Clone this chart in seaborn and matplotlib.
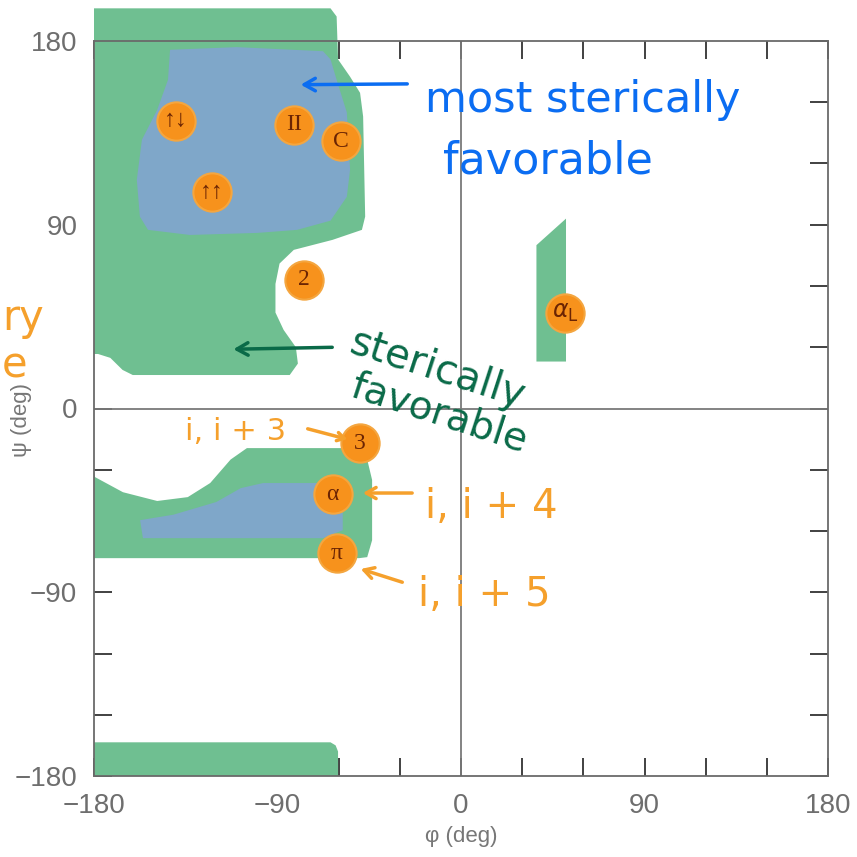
import numpy as np
import pandas as pd
import seaborn as sns
import matplotlib.pyplot as plt

# sterically allowed regions (phi, psi)
green_upper_phi = [-180, -180, -178, -172, -166, -161, -84, -80, -81, -87, -91, -91, -89, -82, -63, -48.6, -47, -48, -49.5, -54.4, -60.3, -61, -64, -177]
green_upper_psi = [196, 26.7, 26.7, 24.8, 18.9, 16.4, 16.4, 22, 30, 38.5, 47, 61, 71, 77.7, 82.6, 87.5, 94, 143, 154.6, 162.5, 171, 192, 196, 196]

blue_upper_phi = [-142.7, -143.7, -149, -156.5, -159, -157.5, -153.5, -133, -100, -80.4, -64, -56, -54.4, -56, -61, -64, -67.7, -110]
blue_upper_psi = [175.7, 161, 146.3, 131.6, 112, 94, 87.5, 85, 86, 87.5, 92, 103.7, 117, 145, 161, 171, 175, 177]

green_lower_phi = [-180, -179.5, -165.8, -149, -134, -123, -113, -105, -58, -50, -46, -43.6, -43.6, -46, -50, -180]
green_lower_psi = [-31, -33.6, -41, -45.3, -43.4, -36.5, -25, -19.4, -19.4, -21, -25, -35, -64.5, -72.8, -73.3, -73.3]

blue_lower_phi = [-157.4, -141, -120, -108, -97, -70.6, -67.7, -58, -58, -67.7, -156]
blue_lower_psi = [-54.7, -52, -45.8, -39, -36.5, -36.5, -43, -51, -59.6, -63.5, -63.5]

green_bottom_phi = [-180, -180, -64, -61.5, -60.3, -60.3]
green_bottom_psi = [-180, -163.5, -163.5, -165, -168, -180]

alpha_l_phi = [37, 37, 51.5, 51.5]
alpha_l_psi = [23, 80, 93, 23]

# conformations
conf_phi = [-140, -82, -59, -122, -77, 51, -49.5, -63, -61]
conf_psi = [141, 139, 131, 106, 63, 47, -17, -42, -71]
conf_labels = ['↑↓', 'II', 'C', '↑↑', '2', r'$\alpha_\mathrm{L}$', '3', 'α', 'π']

ticks = np.arange(-180, 181, 30)
tick_labels = ['\u2212180', '', '', '\u221290', '', '', '0', '', '', '90', '', '', '180']

GREEN = '#6fbf91'
BLUE = '#7fa7c9'
ORANGE = '#f7921c'

sns.set_style('ticks')
plt.rcParams['font.family'] = ['Liberation Sans', 'DejaVu Sans']

fig = plt.figure(figsize=(8.57, 8.57), dpi=100)
ax = fig.add_axes([94 / 857, 1 - 776 / 857, 734 / 857, 735 / 857])

ax.fill(green_upper_phi, green_upper_psi, color=GREEN, lw=0, clip_on=False, zorder=1)
ax.fill(blue_upper_phi, blue_upper_psi, color=BLUE, lw=0, zorder=2)
ax.fill(green_lower_phi, green_lower_psi, color=GREEN, lw=0, zorder=1)
ax.fill(blue_lower_phi, blue_lower_psi, color=BLUE, lw=0, zorder=2)
ax.fill(green_bottom_phi, green_bottom_psi, color=GREEN, lw=0, zorder=1)
ax.fill(alpha_l_phi, alpha_l_psi, color=GREEN, lw=0, zorder=1)

ax.axhline(0, color='#7a7a7a', lw=1.3, zorder=3)
ax.axvline(0, color='#7a7a7a', lw=1.3, zorder=3)

conf = pd.DataFrame({'phi': conf_phi, 'psi': conf_psi, 'label': conf_labels})
sns.scatterplot(data=conf, x='phi', y='psi', s=760, color=ORANGE,
                edgecolor='#f4a640', linewidth=1.5, ax=ax, zorder=5, legend=False)
for _, r in conf.iterrows():
    ax.text(r.phi, r.psi, r.label, ha='center', va='center', fontsize=17,
            color='#6b2403', family=['Liberation Serif', 'DejaVu Serif'], zorder=6)

ax.set_xlim(-180, 180)
ax.set_ylim(-180, 180)
ax.set_xticks(ticks)
ax.set_yticks(ticks)
ax.set_xticklabels(tick_labels)
ax.set_yticklabels(tick_labels)
ax.tick_params(direction='in', length=13, width=1.3, color='#333333', top=True, right=True,
               labelsize=20, labelcolor='#6e6e6e', pad=12)
for sp in ax.spines.values():
    sp.set_color('#6a6a6a')
    sp.set_linewidth(1.3)
    sp.set_zorder(4)
ax.set_xlabel('φ (deg)', fontsize=16, color='#777777')
ax.set_ylabel('ψ (deg)', fontsize=16, color='#777777')
ax.xaxis.set_label_coords(0.5, -0.068)
ax.yaxis.set_label_coords(-0.085, 0.484)

# handwritten notes
hand = ['DejaVu Sans']
BLUE_INK = '#0b6df2'
GREEN_INK = '#0a6a48'
ORANGE_INK = '#f5a02c'
ax.text(-17.7, 151, 'most sterically', fontsize=31, color=BLUE_INK, family=hand,
        va='center', ha='left', clip_on=False, zorder=7)
ax.text(-9, 121, 'favorable', fontsize=32, color=BLUE_INK, family=hand,
        va='center', ha='left', clip_on=False, zorder=7)
ax.annotate('', xy=(-80, 158.6), xytext=(-25, 159),
            arrowprops=dict(arrowstyle='->,head_length=0.8,head_width=0.45', color=BLUE_INK, lw=2.5),
            zorder=7)

ax.text(-55.4, 27.7, 'sterically', fontsize=29, color=GREEN_INK, family=hand, rotation=-18,
        rotation_mode='anchor', ha='left', va='baseline', zorder=7)
ax.text(-55.4, 6.6, 'favorable', fontsize=28, color=GREEN_INK, family=hand, rotation=-18,
        rotation_mode='anchor', ha='left', va='baseline', zorder=7)
ax.annotate('', xy=(-113, 29), xytext=(-61.8, 30),
            arrowprops=dict(arrowstyle='->,head_length=0.8,head_width=0.45', color=GREEN_INK, lw=2.5),
            zorder=7)

ax.text(-135.4, -11.5, 'i, i + 3', fontsize=22, color=ORANGE_INK, family=hand,
        va='center', ha='left', zorder=7)
ax.annotate('', xy=(-54.4, -15.4), xytext=(-76.5, -9.6),
            arrowprops=dict(arrowstyle='->,head_length=0.5,head_width=0.3', color=ORANGE_INK, lw=2.5),
            zorder=7)
ax.text(-17.7, -48.3, 'i, i + 4', fontsize=29, color=ORANGE_INK, family=hand,
        va='center', ha='left', zorder=7)
ax.annotate('', xy=(-49.5, -41.4), xytext=(-22.6, -41.4),
            arrowprops=dict(arrowstyle='->,head_length=0.7,head_width=0.4', color=ORANGE_INK, lw=2.5),
            zorder=7)
ax.text(-21, -91.4, 'i, i + 5', fontsize=29, color=ORANGE_INK, family=hand,
        va='center', ha='left', zorder=7)
ax.annotate('', xy=(-50.5, -78.2), xytext=(-27.5, -85.5),
            arrowprops=dict(arrowstyle='->,head_length=0.7,head_width=0.4', color=ORANGE_INK, lw=2.5),
            zorder=7)
fig.text(2 / 857, 1 - 318 / 857, 'ry', fontsize=30, color=ORANGE_INK, family=hand,
         va='center', ha='left')
fig.text(2 / 857, 1 - 365 / 857, 'e', fontsize=30, color=ORANGE_INK, family=hand,
         va='center', ha='left')

fig.savefig('out.png', dpi=100)
